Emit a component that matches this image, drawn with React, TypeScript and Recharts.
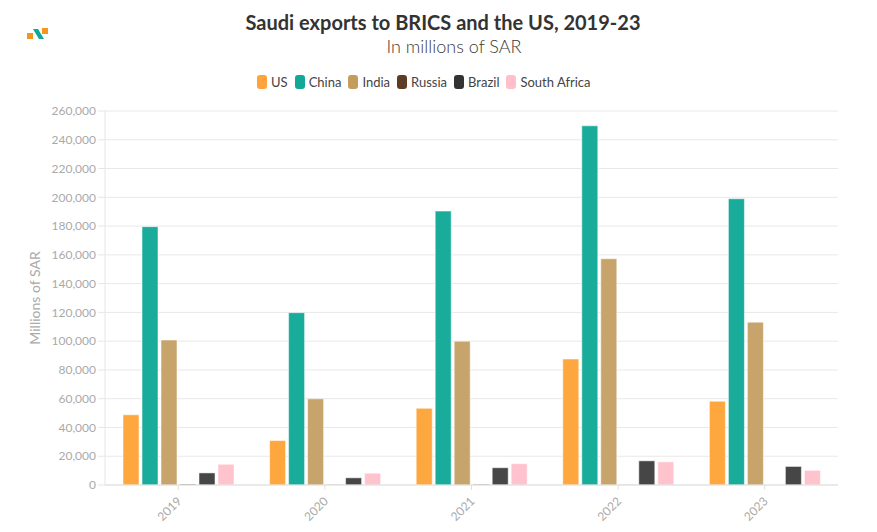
import React from 'react'
import { BarChart, Bar, XAxis, YAxis, CartesianGrid, Label } from 'recharts'

// years on the x axis
const years = ['2019', '2020', '2021', '2022', '2023']

// exports in millions of SAR
const usValues = [48800, 30900, 53300, 87600, 58200]
const chinaValues = [179600, 119800, 190400, 249700, 199000]
const indiaValues = [100800, 59900, 100000, 157300, 113200]
const russiaValues = [600, 300, 500, 200, 0]
const brazilValues = [8400, 5000, 12000, 16800, 12900]
const southAfricaValues = [14400, 8200, 14800, 16100, 10200]

const yTicks = [0, 20000, 40000, 60000, 80000, 100000, 120000, 140000, 160000, 180000, 200000, 220000, 240000, 260000]

const SERIES = [
  { key: 'US', values: usValues, fill: '#ffa73f', legend: '#ffa33a' },
  { key: 'China', values: chinaValues, fill: '#1aac9b', legend: '#12a897' },
  { key: 'India', values: indiaValues, fill: '#c6a46c', legend: '#c49d5e' },
  { key: 'Russia', values: russiaValues, fill: '#6b412d', legend: '#5e3b28' },
  { key: 'Brazil', values: brazilValues, fill: '#464646', legend: '#333333' },
  { key: 'South Africa', values: southAfricaValues, fill: '#ffc3ce', legend: '#ffc0cb' },
]

const data = years.map((year, i) => {
  const row: { [key: string]: any } = { year }
  SERIES.forEach((s) => {
    row[s.key] = s.values[i]
  })
  return row
})

const FONT = 'Lato, "Open Sans", sans-serif'

const XTick = ({ x, y, payload }: any) => (
  <g transform={`translate(${x + 4},${y + 10})`}>
    <text textAnchor="end" transform="rotate(-45)" fill="#aaaaaa" fontSize={12} fontFamily={FONT}>
      {payload.value}
    </text>
  </g>
)

// little brand mark in the top-left corner
const Logo = () => (
  <svg width={24} height={14} style={{ position: 'absolute', left: 27, top: 27 }}>
    <rect x={0} y={6} width={6} height={6} fill="#f7941d" />
    <rect x={15} y={1} width={6} height={6} fill="#f7941d" />
    <polygon points="6,2 11,2 17,12 12,12" fill="#12a897" />
  </svg>
)

export default function App() {
  return (
    <div style={{ position: 'absolute', left: 0, top: 0, width: 877, height: 532, background: '#fff', fontFamily: FONT }}>
      <Logo />
      <div style={{ position: 'absolute', left: 0, width: 886, top: 10, textAlign: 'center', fontSize: 20, fontWeight: 700, color: '#333' }}>
        Saudi exports to BRICS and the US, 2019-23
      </div>
      <div style={{ position: 'absolute', left: 0, width: 908, top: 35, textAlign: 'center', fontSize: 18, fontWeight: 300, color: '#3a3a3a' }}>
        In millions of SAR
      </div>
      <div style={{ position: 'absolute', left: 257, top: 74, display: 'flex', alignItems: 'center', fontSize: 13, color: '#444' }}>
        {SERIES.map((s) => (
          <div key={s.key} style={{ display: 'flex', alignItems: 'center', marginRight: 7 }}>
            <div style={{ width: 10, height: 14, borderRadius: 3, background: s.legend, marginRight: 4 }} />
            <span>{s.key}</span>
          </div>
        ))}
      </div>
      <BarChart
        width={877}
        height={532}
        data={data}
        margin={{ top: 111, right: 39, bottom: 0, left: 45 }}
        barCategoryGap={18}
        barGap={3}
      >
        <CartesianGrid vertical={false} stroke="#e8e8e8" />
        <XAxis
          dataKey="year"
          height={47}
          stroke="#e0e0e0"
          tickSize={5}
          tick={<XTick />}
          interval={0}
        />
        <YAxis
          width={60}
          domain={[0, 260000]}
          ticks={yTicks}
          stroke="#e6e6e6"
          tickSize={7}
          tick={{ fill: '#aaaaaa', fontSize: 12, fontFamily: FONT }}
          tickFormatter={(v: number) => v.toLocaleString('en-US')}
        >
          <Label
            value="Millions of SAR"
            angle={-90}
            position="insideLeft"
            offset={-10}
            style={{ fill: '#aaaaaa', fontSize: 14, fontFamily: FONT, textAnchor: 'middle' }}
          />
        </YAxis>
        {SERIES.map((s) => (
          <Bar
            key={s.key}
            dataKey={s.key}
            fill={s.fill}
            stroke="rgba(255,255,255,0.5)"
            strokeWidth={1}
            isAnimationActive={false}
          />
        ))}
      </BarChart>
    </div>
  )
}
